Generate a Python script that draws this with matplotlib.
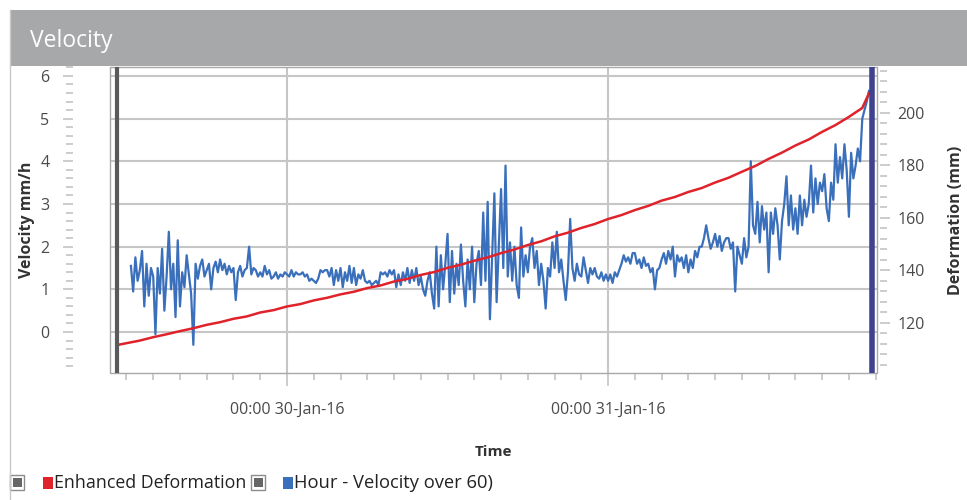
import matplotlib
matplotlib.use("Agg")
import matplotlib.pyplot as plt
import matplotlib.dates as mdates
import matplotlib.ticker as ticker
from matplotlib.patches import Rectangle
import pandas as pd

plt.rcParams['font.family'] = ['Open Sans', 'DejaVu Sans']

# --- DATA ---
# Velocity (mm/h), one reading every 10 min starting 29-Jan-16 12:20
velocity = [
    1.55, 0.95, 1.75, 1.2,
    1.45, 1.9, 0.6, 1.6, 0.85, 1.5,
    1.3, -0.05, 1.5, 0.9, 1.95, 0.5,
    1.3, 2.35, 1.0, 1.6, 0.35, 2.15,
    0.6, 1.4, 1.05, 1.8, 1.35, 0.9,
    -0.3, 1.6, 1.25, 1.55, 1.7, 1.3,
    1.45, 1.6, 1.0, 1.5, 1.65, 1.4,
    1.7, 1.45, 1.6, 1.35, 1.55, 1.4,
    1.5, 0.75, 1.4, 1.55, 1.3, 1.45,
    1.5, 2.0, 1.35, 1.5, 1.45, 1.3,
    1.4, 1.3, 1.55, 1.35, 1.45, 1.25,
    1.3, 1.4, 1.25, 1.35, 1.3, 1.4,
    1.35, 1.3, 1.45, 1.3, 1.4, 1.35,
    1.35, 1.4, 1.3, 1.35, 1.2, 1.25,
    1.2, 1.15, 1.25, 1.45, 1.4, 1.45,
    1.45, 1.3, 1.5, 1.1, 1.45, 1.2,
    1.5, 1.05, 1.4, 1.2, 1.55, 1.15,
    1.5, 1.1, 1.35, 1.25, 1.45, 1.2,
    1.15, 1.2, 1.1, 1.15, 1.2, 1.1,
    1.4, 1.35, 1.4, 1.3, 1.45, 1.35,
    1.45, 1.05, 1.35, 1.1, 1.4, 1.2,
    1.5, 1.15, 1.45, 1.2, 1.5, 1.1,
    1.3, 1.0, 0.85, 1.2, 1.4, 0.9,
    0.55, 2.0, 0.6, 1.8, 1.0, 1.6,
    2.3, 0.7, 1.9, 0.9, 1.6, 1.1,
    2.05, 1.2, 0.6, 1.7, 1.0, 2.0,
    0.7, 1.6, 1.9, 1.1, 2.8, 1.2,
    3.05, 0.3, 1.8, 3.25, 0.7, 2.0,
    3.35, 1.5, 3.9, 1.3, 2.1, 1.2,
    2.0, 1.1, 0.8, 2.45, 1.3, 1.8,
    1.4, 2.0, 2.2, 1.5, 1.9, 1.1,
    1.6, 1.2, 0.55, 1.5, 1.3, 2.1,
    1.5, 2.35, 1.4, 1.7, 1.2, 0.75,
    1.4, 2.65, 1.5, 1.2, 1.6, 1.35,
    1.3, 1.75, 1.45, 1.15, 1.5, 1.35,
    1.5, 1.3, 1.25, 1.4, 1.2, 1.35,
    1.2, 1.35, 1.15, 1.4, 1.3, 1.45,
    1.6, 1.8, 1.65, 1.75, 1.6, 1.85,
    1.85, 1.6, 1.7, 1.5, 1.75, 1.55,
    1.6, 1.4, 1.5, 1.0, 1.45, 1.5,
    1.7, 1.85, 1.6, 1.9, 1.7, 2.0,
    1.3, 1.8, 1.65, 1.75, 1.5, 1.8,
    1.4, 1.7, 1.5, 1.9, 1.75, 2.0,
    2.0, 2.2, 2.5, 2.2, 1.95, 2.1,
    2.3, 2.0, 2.25, 1.9, 2.1, 2.2,
    2.2, 1.95, 2.1, 0.95, 2.0, 1.8,
    1.6, 2.2, 1.75, 2.0, 4.0, 2.5,
    2.3, 3.05, 2.1, 2.95, 2.4, 2.8,
    1.4, 2.8, 2.3, 2.9, 2.5, 1.7,
    2.6, 3.0, 3.65, 2.5, 3.2, 2.4,
    2.9, 2.3, 3.2, 2.5, 3.1, 2.7,
    3.0, 3.9, 2.8, 3.6, 3.0, 3.5,
    3.3, 3.7, 2.9, 2.6, 3.5, 3.1,
    4.4, 3.5, 4.1, 3.6, 4.4, 3.8,
    2.7, 4.2, 3.6, 3.9, 4.3, 4.0,
    5.0, 5.2, 5.4, 5.65,
]
vel_times = pd.date_range("2016-01-29 12:20", periods=len(velocity), freq="10min")

# Enhanced deformation (mm), hours after 29-Jan-16 00:00
deform_hours = [11.3, 12, 13, 14, 15, 16, 17, 18, 19, 20, 21, 22, 23, 24, 25, 26, 27,
                28, 29, 30, 31, 32, 33, 34, 35, 36, 37, 38, 39, 40, 41, 42, 43, 44,
                45, 46, 47, 48, 49, 50, 51, 52, 53, 54, 55, 56, 57, 58, 59, 60, 61,
                62, 63, 64, 65, 66, 67, 67.5]
deformation = [111.6, 112.3, 113.3, 114.6, 115.7, 116.9, 118.0, 119.3, 120.3, 121.6,
               122.5, 124.0, 124.9, 126.3, 127.2, 128.6, 129.6, 130.9, 131.9, 133.3,
               134.3, 135.8, 136.8, 138.3, 139.4, 141.0, 142.2, 143.7, 145.0, 146.6,
               148.0, 149.7, 151.1, 153.0, 154.4, 156.2, 157.7, 159.6, 161.1, 163.0,
               164.6, 166.6, 168.0, 169.9, 171.4, 173.5, 175.3, 177.6, 179.8, 182.5,
               184.9, 187.6, 189.9, 192.8, 195.4, 198.5, 201.9, 207.5]
day0 = pd.Timestamp("2016-01-29 00:00")
deform_times = [day0 + pd.Timedelta(hours=h) for h in deform_hours]

start_marker = day0 + pd.Timedelta(hours=11.29)
end_marker = day0 + pd.Timedelta(hours=67.74)
x_start = day0 + pd.Timedelta(hours=10.77)
x_end = day0 + pd.Timedelta(hours=68.1)

# --- FIGURE ---
W, H = 967, 500
fig = plt.figure(figsize=(W / 100, H / 100), dpi=100)

def px(x, y, w, h):
    # pixel box (top-left origin) -> figure fraction
    return (x / W, 1 - (y + h) / H, w / W, h / H)

# header bar and panel border
fig.patches.append(Rectangle(px(10, 10, 957, 56)[:2], 957 / W, 56 / H,
                             transform=fig.transFigure, facecolor='#a7a8aa', edgecolor='none'))
fig.lines.append(plt.Line2D([9.5 / W, 9.5 / W], [0, 1 - 10 / H], transform=fig.transFigure,
                            color='#c8c8c8', lw=1))
fig.text(30 / W, 1 - 41 / H, 'Velocity', color='white', fontsize=16.5, va='center', ha='left')

ax = fig.add_axes(px(110, 67, 767, 306))
ax2 = ax.twinx()

grid_col = '#c6c6c6'
tick_col = '#c4c4c4'
lab_col = '#4a4a4a'

ax.plot(vel_times, velocity, color='#3a6fbb', lw=1.6, zorder=3)
ax2.plot(deform_times, deformation, color='#e0232b', lw=1.8, zorder=3)
ax2.axvline(start_marker, color='#5a5a5a', lw=3, zorder=4)
ax2.axvline(end_marker, color='#3f438f', lw=4, zorder=4)

ax.set_xlim(x_start, x_end)
ax.set_ylim(-0.96, 6.21)
ax2.set_ylim(100.95, 217.5)

# x axis
ax.xaxis.set_major_locator(mdates.DayLocator())
ax.xaxis.set_minor_locator(mdates.HourLocator(byhour=range(0, 24, 2)))
ax.xaxis.set_major_formatter(mdates.DateFormatter('%H:%M %d-%b-%y'))
ax.tick_params(axis='x', which='major', length=9, width=1.2, color=tick_col,
               labelsize=11.5, labelcolor=lab_col, pad=12)
ax.tick_params(axis='x', which='minor', length=5, width=1.2, color=tick_col)

# left y axis (ticks detached from plot)
ax.spines['left'].set_position(('outward', 27))
ax.yaxis.set_major_locator(ticker.MultipleLocator(1))
ax.yaxis.set_minor_locator(ticker.MultipleLocator(0.2))
ax.tick_params(axis='y', which='major', length=7.5, width=1.2, color=tick_col,
               labelsize=11.5, labelcolor=lab_col, pad=9)
ax.tick_params(axis='y', which='minor', length=5, width=1.2, color=tick_col)

# right y axis
ax2.spines['right'].set_position(('outward', 2))
ax2.yaxis.set_major_locator(ticker.MultipleLocator(20))
ax2.yaxis.set_minor_locator(ticker.MultipleLocator(4))
ax2.tick_params(axis='y', which='major', length=7.5, width=1.2, color=tick_col,
                labelsize=11.5, labelcolor=lab_col, pad=5)
ax2.tick_params(axis='y', which='minor', length=5, width=1.2, color=tick_col)

for a in (ax, ax2):
    for s in a.spines.values():
        s.set_visible(False)

# frame
ax.add_patch(Rectangle((0, 0), 1, 1, transform=ax.transAxes, fill=False,
                       edgecolor='#a8a8a8', lw=1, clip_on=False, zorder=5))

ax.grid(True, which='major', axis='both', color=grid_col, lw=1.5, zorder=0)
ax.set_axisbelow(True)

ax.set_ylabel('Velocity mm/h', fontsize=11.5, fontweight='bold', color='#333333', labelpad=4)
ax2.set_ylabel('Deformation (mm)', fontsize=11.5, fontweight='bold', color='#333333', labelpad=17)
ax.set_xlabel('Time', fontsize=11, fontweight='bold', color='#333333', labelpad=19)

# --- LEGEND (bottom strip) ---
def checkbox(x):
    fig.patches.append(Rectangle(px(x, 475, 14, 15)[:2], 14 / W, 15 / H, transform=fig.transFigure,
                                 facecolor='white', edgecolor='#8c8c8c', lw=1))
    fig.patches.append(Rectangle(px(x + 2.5, 478, 9, 9)[:2], 9 / W, 9 / H, transform=fig.transFigure,
                                 facecolor='#666666', edgecolor='none'))

def swatch(x, color):
    fig.patches.append(Rectangle(px(x, 477, 10, 12)[:2], 10 / W, 12 / H, transform=fig.transFigure,
                                 facecolor=color, edgecolor='none'))

checkbox(10)
swatch(43, '#e0232b')
fig.text(54 / W, 1 - 483 / H, 'Enhanced Deformation', fontsize=12.8, color='#222222',
         va='center', ha='left')
checkbox(251)
swatch(283, '#3a6fbb')
fig.text(294 / W, 1 - 483 / H, 'Hour - Velocity over 60)', fontsize=13.2, color='#222222',
         va='center', ha='left')

fig.savefig('out.png', dpi=100)
